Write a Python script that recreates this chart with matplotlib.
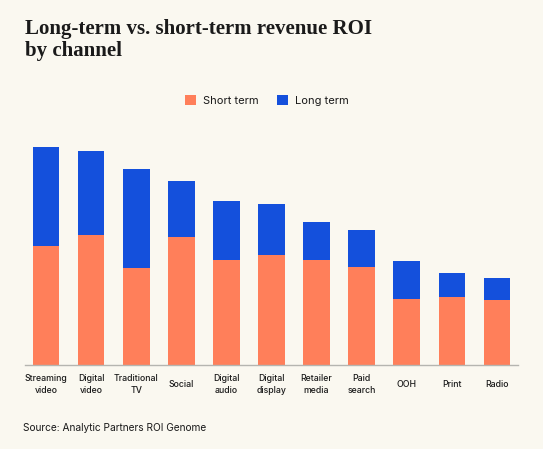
import matplotlib
matplotlib.use("Agg")
import matplotlib.pyplot as plt
from matplotlib.patches import Patch

categories = ["Streaming\nvideo", "Digital\nvideo", "Traditional\nTV", "Social",
              "Digital\naudio", "Digital\ndisplay", "Retailer\nmedia", "Paid\nsearch",
              "OOH", "Print", "Radio"]
short_term = [1.19, 1.30, 0.97, 1.28, 1.05, 1.10, 1.05, 0.98, 0.66, 0.68, 0.65]
long_term = [0.99, 0.84, 0.99, 0.56, 0.59, 0.51, 0.38, 0.37, 0.38, 0.24, 0.22]

BG = "#FAF8F0"
ORANGE = "#FF7F5A"
BLUE = "#1450DC"
W, H = 543, 449

fig = plt.figure(figsize=(W / 100, H / 100), dpi=100, facecolor=BG)
ax = fig.add_axes([25 / W, 1 - 365.3 / H, (518 - 25) / W, (365.3 - 140) / H])
ax.set_facecolor(BG)

x = list(range(len(categories)))
ax.bar(x, short_term, width=0.59, color=ORANGE, label="Short term")
ax.bar(x, long_term, width=0.59, bottom=short_term, color=BLUE, label="Long term")

ax.set_xlim(-0.466, len(categories) - 1 + 0.466)
ax.set_ylim(0, 2.253)
ax.set_yticks([])
for s in ["top", "right", "left"]:
    ax.spines[s].set_visible(False)
ax.spines["bottom"].set_color("#B5B5B0")
ax.spines["bottom"].set_linewidth(1.0)
ax.set_xticks(x)
ax.set_xticklabels(categories, fontsize=6.3, family=["Inter", "DejaVu Sans"],
                   fontweight="medium", color="#1a1a1a", linespacing=1.45)
ax.tick_params(axis="x", length=0, pad=14)
for lbl in ax.get_xticklabels():
    lbl.set_va("center")

fig.text(25 / W, 1 - 19 / H, "Long-term vs. short-term revenue ROI\nby channel",
         family=["Liberation Serif", "DejaVu Serif"], fontweight="bold",
         fontsize=15, color="#1a1a1a", va="top", ha="left", linespacing=1.15)

handles = [Patch(facecolor=ORANGE, label="Short term"),
           Patch(facecolor=BLUE, label="Long term")]
fig.legend(handles=handles, loc="center", bbox_to_anchor=(267 / W, 1 - 100.5 / H),
           ncol=2, frameon=False, prop={"family": ["Inter", "DejaVu Sans"], "size": 8},
           handlelength=1.0, handleheight=1.0, handletextpad=0.6, columnspacing=1.7,
           labelcolor="#1a1a1a")

fig.text(23 / W, 1 - 428 / H, "Source: Analytic Partners ROI Genome",
         family=["Inter", "DejaVu Sans"], fontsize=7.3, color="#1a1a1a",
         va="center", ha="left")

fig.savefig("out.png", dpi=100, facecolor=BG)
